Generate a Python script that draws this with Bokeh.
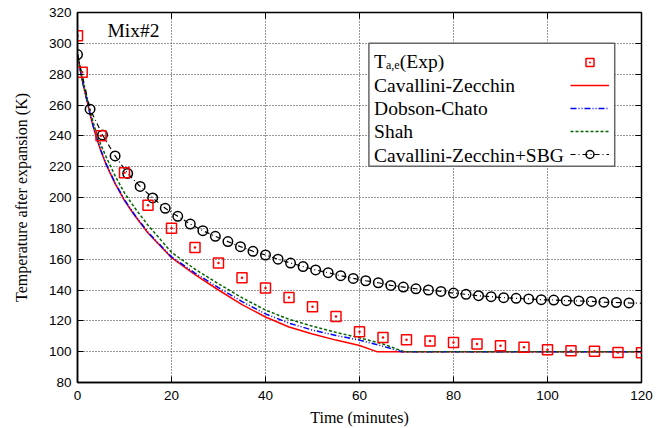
from bokeh.plotting import figure
from bokeh.models import (Range1d, FixedTicker, LinearAxis, Legend, LegendItem,
                          Label, CustomLabelingPolicy)
from bokeh.core.properties import value
from bokeh.embed import file_html
from bokeh.resources import INLINE

# ---------------- data ----------------
t_exp = [0, 1, 5, 10, 15, 20, 25, 30, 35, 40, 45, 50, 55, 60, 65, 70, 75, 80,
         85, 90, 95, 100, 105, 110, 115, 120]
T_exp = [305, 281.3, 240, 216, 195, 180, 167.5, 157.5, 148, 141.3, 135.2, 129.2,
         122.8, 113, 109.2, 107.7, 106.9, 106, 105, 103.9, 102.8, 101.3, 100.6,
         100.2, 99.5, 99.3]

t_cz = [0, 1, 2, 3, 4, 5, 6, 8, 10, 12, 15, 20, 25, 30, 35, 40, 45, 50, 55, 60,
        63.7, 70, 80, 90, 100, 110, 120]
T_cz = [292.7, 276, 263, 250, 239, 230, 222, 209, 198, 189, 177, 161, 150, 140,
        130.5, 122.5, 116, 111.5, 107.5, 104, 100, 100, 100, 100, 100, 100, 100]

t_dc = [0, 1, 2, 3, 4, 5, 6, 8, 10, 12, 15, 20, 25, 30, 35, 40, 45, 50, 55, 60,
        65, 69, 80, 90, 100, 110, 120]
T_dc = [292.7, 276, 263, 250, 239.5, 230.5, 222.5, 209.5, 198.5, 189.5, 177.5,
        161.5, 151, 141.5, 132.5, 124.5, 118.5, 114, 110.5, 107.5, 103.5, 100,
        100, 100, 100, 100, 100]

t_shah = [0, 1, 2, 3, 4, 5, 6, 8, 10, 12, 15, 20, 25, 30, 35, 40, 45, 50, 55,
          60, 65, 69.5, 80, 90, 100, 110, 120]
T_shah = [292.7, 277, 264.5, 252.5, 242, 234, 227, 214, 203, 194, 182, 164.5,
          153.5, 144, 135, 127, 121, 116.5, 112.5, 109, 105, 100, 100, 100, 100,
          100, 100]

t_sbg = [0, 2.67, 5.33, 8.0, 10.67, 13.33, 16.0, 18.67, 21.33, 24.0, 26.67,
         29.33, 32.0, 34.67, 37.33, 40.0, 42.67, 45.33, 48.0, 50.67, 53.33, 56.0,
         58.67, 61.33, 64.0, 66.67, 69.33, 72.0, 74.67, 77.33, 80.0, 82.67, 85.33,
         88.0, 90.67, 93.33, 96.0, 98.67, 101.33, 104.0, 106.67, 109.33, 112.0,
         114.67, 117.33, 120.0]
T_sbg = [292.7, 257.3, 240.6, 227.0, 215.6, 207.2, 199.7, 193.0, 187.8, 182.8,
         178.5, 174.8, 171.4, 168.1, 165.1, 162.7, 160.0, 157.5, 155.2, 153.0,
         151.2, 149.3, 147.5, 146.0, 144.7, 143.0, 141.9, 140.8, 140.0, 139.1,
         138.0, 137.2, 136.3, 135.7, 135.0, 134.6, 134.2, 133.7, 133.5, 133.1,
         132.9, 132.6, 132.1, 131.9, 131.6, 131.4]

x_ticks = [0, 20, 40, 60, 80, 100, 120]
y_ticks = [80, 100, 120, 140, 160, 180, 200, 220, 240, 260, 280, 300, 320]

series_names = ["Cavallini-Zecchin", "Dobson-Chato", "Shah",
                "Cavallini-Zecchin+SBG"]
exp_main, exp_sub, exp_tail = "T", "a,e", "(Exp)"
panel_label = "Mix#2"
x_label = "Time (minutes)"
y_label = "Temperature after expansion (K)"

# legend frame extent (layout, in axis units)
LEG_LEFT, LEG_RIGHT, LEG_TOP, LEG_BOTTOM = 62, 114.3, 300, 220.2

SERIF = "Liberation Serif"
SANS = "Liberation Sans"

# ---------------- figure ----------------
p = figure(width=667, height=428, output_backend="svg", toolbar_location=None,
           x_range=Range1d(0, 120), y_range=Range1d(80, 320),
           min_border_left=77, min_border_right=26, min_border_top=12,
           min_border_bottom=46)
p.background_fill_color = None
p.border_fill_color = "white"
p.outline_line_color = "black"
p.outline_line_width = 1.5

xt = FixedTicker(ticks=x_ticks)
yt = FixedTicker(ticks=y_ticks)

for ax in (p.xaxis[0], p.yaxis[0]):
    ax.major_tick_in = 6
    ax.major_tick_out = 0
    ax.minor_tick_in = 0
    ax.minor_tick_out = 0
    ax.axis_line_color = "black"
    ax.axis_line_width = 1.5
    ax.major_tick_line_color = "black"
    ax.major_label_text_font = SANS
    ax.major_label_text_font_size = "13.5px"
    ax.major_label_text_color = "black"
    ax.axis_label_text_font = SERIF
    ax.axis_label_text_font_size = "16px"
    ax.axis_label_text_font_style = "normal"
    ax.axis_label_text_color = "black"

p.xaxis[0].ticker = xt
p.yaxis[0].ticker = yt
p.xaxis[0].axis_label = x_label
p.yaxis[0].axis_label = y_label
p.xaxis[0].major_label_standoff = 8
p.xaxis[0].axis_label_standoff = 6
p.yaxis[0].major_label_standoff = 6
p.yaxis[0].axis_label_standoff = 16

# mirror ticks on top and right (tick marks only, no labels drawn)
no_labels_code = """
try {
  const ids = [...indices.ones()]
  for (const i of ids) indices.unset(i)
} catch (e) {}
return indices
"""
for loc, tk in (("above", xt), ("right", yt)):
    ax = LinearAxis(ticker=tk, major_tick_in=6, major_tick_out=0,
                    minor_tick_in=0, minor_tick_out=0,
                    major_label_text_font_size="0px", major_label_standoff=0,
                    major_label_policy=CustomLabelingPolicy(code=no_labels_code),
                    axis_line_color=None, major_tick_line_color="black")
    p.add_layout(ax, loc)

p.xgrid.ticker = xt
p.ygrid.ticker = yt
p.xgrid.grid_line_color = "#333333"
p.ygrid.grid_line_color = "#333333"
p.xgrid.grid_line_dash = "1 2"
p.ygrid.grid_line_dash = "1 2"
p.xgrid.grid_line_width = 1
p.ygrid.grid_line_width = 1

# legend frame (white box hiding the grid, grey border)
p.quad(left=[LEG_LEFT], right=[LEG_RIGHT], top=[LEG_TOP], bottom=[LEG_BOTTOM],
       fill_color="white", fill_alpha=1.0, line_color="#666666",
       line_width=1.5)

# ---------------- glyphs ----------------
r_cz = p.line(t_cz, T_cz, line_color="#ff0000", line_width=1.5)
r_dc = p.line(t_dc, T_dc, line_color="#0000ff", line_width=1.5,
              line_dash="6 2 1 2 1 2")
r_sh = p.line(t_shah, T_shah, line_color="#006600", line_width=1.5,
              line_dash="3 2")
r_sbg_l = p.line(t_sbg, T_sbg, line_color="black", line_width=1.2,
                 line_dash="5 3 1 3")
r_sbg_m = p.scatter(t_sbg[:-1], T_sbg[:-1], marker="circle", size=9.5,
                    fill_color=None, line_color="black", line_width=1.5)
r_exp = p.scatter(t_exp, T_exp, marker="square_dot", size=10,
                  fill_color=None, line_color="#ff0000", line_width=1.5)

# ---------------- annotations ----------------
p.add_layout(Label(x=30, y=352.5, x_units="screen", y_units="screen",
                   text=panel_label, text_font=SERIF, text_font_size="19.5px",
                   text_baseline="alphabetic", text_color="black"))

tx = 296.6
dy = 6.5
p.add_layout(Label(x=tx, y=314.4 + dy, x_units="screen", y_units="screen",
                   text=exp_main, text_font=SERIF, text_font_size="19.5px",
                   text_baseline="alphabetic", text_color="black"))
p.add_layout(Label(x=tx + 11.9, y=310.8 + dy, x_units="screen",
                   y_units="screen", text=exp_sub, text_font=SERIF,
                   text_font_size="12px", text_baseline="alphabetic",
                   text_color="black"))
p.add_layout(Label(x=tx + 11.9 + 13.8, y=314.4 + dy, x_units="screen",
                   y_units="screen", text=exp_tail, text_font=SERIF,
                   text_font_size="19.5px", text_baseline="alphabetic",
                   text_color="black"))
for name, yy in zip(series_names, [290.8, 267.5, 244.2, 221.0]):
    p.add_layout(Label(x=tx, y=yy + dy, x_units="screen", y_units="screen",
                       text=name, text_font=SERIF, text_font_size="19.5px",
                       text_baseline="alphabetic", text_color="black"))

items = [LegendItem(label=value(" "), renderers=[r_exp]),
         LegendItem(label=value(" "), renderers=[r_cz]),
         LegendItem(label=value(" "), renderers=[r_dc]),
         LegendItem(label=value(" "), renderers=[r_sh]),
         LegendItem(label=value(" "), renderers=[r_sbg_l, r_sbg_m])]
leg = Legend(items=items, location=(493, 218), glyph_width=39,
             glyph_height=20, spacing=3, label_width=0, label_standoff=0,
             label_height=20, padding=0, margin=0, border_line_color=None,
             background_fill_alpha=0, label_text_font_size="8px")
p.add_layout(leg)

open("out.html", "w").write(file_html(p, INLINE))
